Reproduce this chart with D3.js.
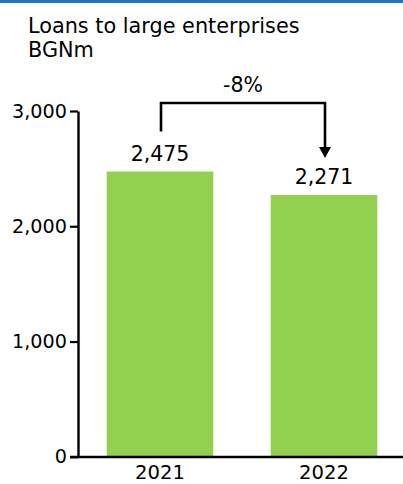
<!DOCTYPE html>
<html><head><meta charset="utf-8">
<script src="https://cdn.jsdelivr.net/npm/d3@7"></script>
<style>body{margin:0;background:#fff}svg{display:block}text{font-family:"DejaVu Sans",Verdana,sans-serif;fill:#000}</style>
</head><body>
<script>
const categories = ["2021", "2022"];
const values = [2475, 2271];
const labels = ["2,475", "2,271"];
const yTicks = [0, 1000, 2000, 3000];
const title = ["Loans to large enterprises", "BGNm"];
const change = "-8%";

const W = 403, H = 484;
const svg = d3.select("body").append("svg").attr("width", W).attr("height", H);

svg.append("rect").attr("x", 0).attr("y", 0).attr("width", W).attr("height", 3).attr("fill", "#1b75c9");

svg.selectAll("text.title").data(title).join("text").attr("class", "title")
  .attr("x", 28).attr("y", (d, i) => 33 + i * 24).style("font-size", "20.8px").text(d => d);

const y = d3.scaleLinear().domain([0, 3000]).range([456.8, 111]);
const x = d3.scaleBand().domain(categories).range([78, 406]).paddingInner(0.35).paddingOuter(0.175);

svg.selectAll("rect.bar").data(values).join("rect").attr("class", "bar")
  .attr("x", (d, i) => x(categories[i])).attr("width", x.bandwidth())
  .attr("y", d => y(d)).attr("height", d => y(0) - y(d)).attr("fill", "#92d050");

const yAxis = svg.append("g").attr("transform", "translate(78,0)")
  .call(d3.axisLeft(y).tickValues(yTicks).tickFormat(d3.format(",")).tickSizeInner(8).tickSizeOuter(0).tickPadding(3));
yAxis.select(".domain").attr("stroke", "#000").attr("stroke-width", 2.4);
yAxis.selectAll(".tick line").attr("stroke", "#000").attr("stroke-width", 2.2);
yAxis.selectAll(".tick text").style("font-size", "19.2px").attr("font-family", null);

const xAxis = svg.append("g").attr("transform", "translate(0,457)")
  .call(d3.axisBottom(x).tickSize(0).tickPadding(8));
xAxis.select(".domain").attr("d", "M70,0H403").attr("stroke", "#000").attr("stroke-width", 2.4);
xAxis.selectAll(".tick text").style("font-size", "19.6px").attr("font-family", null);

svg.selectAll("text.vl").data(values).join("text").attr("class", "vl")
  .attr("x", (d, i) => x(categories[i]) + x.bandwidth() / 2).attr("y", d => y(d) - 11)
  .attr("text-anchor", "middle").style("font-size", "20.5px").text((d, i) => labels[i]);

// bracket arrow
const x1 = x(categories[0]) + x.bandwidth() / 2 + 1, x2 = x(categories[1]) + x.bandwidth() / 2 + 1;
const yTop = 103;
svg.append("path").attr("d", `M${x1},${y(values[0]) - 40}V${yTop}H${x2}V148`)
  .attr("fill", "none").attr("stroke", "#000").attr("stroke-width", 2.6);
svg.append("path").attr("d", `M${x2 - 6},147L${x2 + 6},147L${x2},158Z`).attr("fill", "#000");
svg.append("text").attr("x", (x1 + x2) / 2).attr("y", 92).attr("text-anchor", "middle")
  .style("font-size", "20.5px").text(change);
</script>
</body></html>
